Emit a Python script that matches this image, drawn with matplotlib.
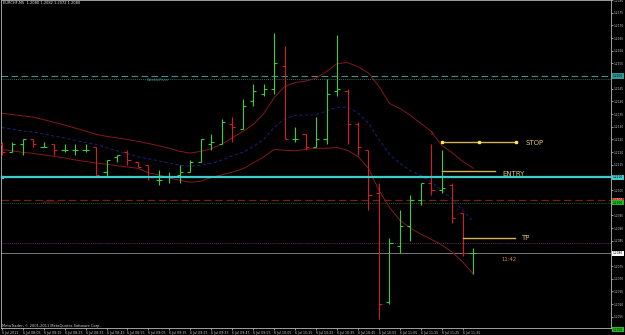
import numpy as np
import matplotlib
matplotlib.use("Agg")
import matplotlib.pyplot as plt

# ---------------- data ----------------
symbol = "EURCHF,M5"
opens  = [1.2123,1.2120,1.2123,1.2125,1.2122,1.2123,1.2121,1.2121,1.2121,1.2122,
          1.2112,1.2118,1.2120,1.2116,1.2115,1.2109,1.2110,1.2111,1.2112,1.2116,
          1.2123,1.2123,1.2131,1.2129,1.2140,1.2143,1.2145,1.2154,1.2125,1.2127,
          1.2122,1.2125,1.2144,1.2144,1.2131,1.2121,1.2104,1.2061,1.2083,1.2091,
          1.2101,1.2108,1.2105,1.2107,1.2096,1.2080]
highs  = [1.2124,1.2124,1.2125,1.2125,1.2124,1.2123,1.2123,1.2123,1.2123,1.2122,
          1.2117,1.2119,1.2121,1.2116,1.2115,1.2113,1.2112,1.2115,1.2117,1.2125,
          1.2127,1.2133,1.2134,1.2141,1.2147,1.2147,1.2167,1.2162,1.2130,1.2127,
          1.2134,1.2149,1.2166,1.2145,1.2132,1.2121,1.2108,1.2086,1.2097,1.2103,
          1.2108,1.2123,1.2121,1.2108,1.2096,1.2082]
lows   = [1.2119,1.2120,1.2119,1.2122,1.2122,1.2119,1.2120,1.2119,1.2120,1.2111,
          1.2110,1.2116,1.2115,1.2114,1.2109,1.2107,1.2108,1.2108,1.2112,1.2116,
          1.2121,1.2123,1.2124,1.2129,1.2138,1.2142,1.2143,1.2125,1.2124,1.2121,
          1.2122,1.2123,1.2142,1.2123,1.2119,1.2097,1.2054,1.2060,1.2080,1.2085,
          1.2099,1.2103,1.2104,1.2092,1.2079,1.2072]
closes = [1.2120,1.2123,1.2125,1.2123,1.2122,1.2121,1.2121,1.2121,1.2121,1.2111,
          1.2117,1.2119,1.2117,1.2114,1.2110,1.2109,1.2110,1.2112,1.2116,1.2125,
          1.2124,1.2132,1.2130,1.2138,1.2144,1.2145,1.2155,1.2125,1.2125,1.2122,
          1.2125,1.2143,1.2145,1.2131,1.2122,1.2103,1.2060,1.2084,1.2091,1.2101,
          1.2108,1.2105,1.2106,1.2094,1.2080,1.2080]

band_upper = [1.21353,1.21348,1.21343,1.21338,1.21328,1.21317,1.21307,1.21295,1.21283,1.21270,
              1.21262,1.21256,1.21250,1.21242,1.21234,1.21225,1.21215,1.21203,1.21196,1.21203,
              1.21213,1.21232,1.21256,1.21281,1.21309,1.21352,1.21415,1.21459,1.21474,1.21480,
              1.21492,1.21518,1.21549,1.21553,1.21537,1.21512,1.21459,1.21392,1.21372,1.21345,
              1.21313,1.21281,1.21226,1.21197,1.21163,1.21136]
band_middle = [1.21297,1.21291,1.21283,1.21279,1.21271,1.21263,1.21256,1.21246,1.21238,1.21230,
               1.21217,1.21205,1.21193,1.21181,1.21174,1.21165,1.21156,1.21148,1.21144,1.21148,
               1.21156,1.21169,1.21185,1.21199,1.21222,1.21250,1.21297,1.21331,1.21345,1.21346,
               1.21348,1.21362,1.21376,1.21378,1.21354,1.21313,1.21250,1.21191,1.21156,1.21126,
               1.21108,1.21081,1.21049,1.21014,1.20970,1.20927]
band_lower = [1.21210,1.21205,1.21199,1.21195,1.21189,1.21183,1.21177,1.21169,1.21163,1.21157,
              1.21152,1.21146,1.21141,1.21136,1.21118,1.21110,1.21098,1.21089,1.21081,1.21085,
              1.21100,1.21110,1.21121,1.21134,1.21157,1.21181,1.21211,1.21207,1.21205,1.21211,
              1.21215,1.21215,1.21218,1.21207,1.21183,1.21136,1.21049,1.20982,1.20931,1.20900,
              1.20876,1.20856,1.20833,1.20805,1.20766,1.20719]

time_labels = ["6 Jul 2011", "6 Jul 08:05", "6 Jul 08:15", "6 Jul 08:25", "6 Jul 08:35",
               "6 Jul 08:45", "6 Jul 08:55", "6 Jul 09:05", "6 Jul 09:15", "6 Jul 09:25",
               "6 Jul 09:35", "6 Jul 09:45", "6 Jul 09:55", "6 Jul 10:05", "6 Jul 10:15",
               "6 Jul 10:25", "6 Jul 10:35", "6 Jul 10:45", "6 Jul 10:55", "6 Jul 11:05",
               "6 Jul 11:15", "6 Jul 11:25", "6 Jul 11:35"]
price_ticks = [1.2055, 1.2060, 1.2065, 1.2070, 1.2075, 1.2080, 1.2085, 1.2090, 1.2095,
               1.2100, 1.2105, 1.2110, 1.2115, 1.2120, 1.2125, 1.2130, 1.2135, 1.2140,
               1.2145, 1.2150, 1.2155, 1.2160, 1.2165, 1.2170, 1.2175, 1.2180]

weekly_pivot = 1.2150
weekly_dotted = 1.2149
cyan_level = 1.2110
daily_pivot = 1.2101
green_dotted = 1.2100
purple_dotted = 1.2084
bid_level = 1.2080
offchart_level = 1.2050

stop_level = 1.2124
entry_level = 1.21125
tp_level = 1.2086
signal_bar = 41
signal_price = 1.2127
clock_text = "11:42"

# ---------------- figure ----------------
W, H = 625, 335
fig = plt.figure(figsize=(W/100, H/100), dpi=100, facecolor="black")
ax = fig.add_axes([1/W, 1 - 328/H, 610/W, 328/H])
ax.set_facecolor("black")
ax.set_xlim(-0.067, 58.14)
ax.set_ylim(1.20506, 1.21797)

x = np.arange(len(opens))
o = np.array(opens); h = np.array(highs); l = np.array(lows); c = np.array(closes)
green, red = "#38cf38", "#d21e1e"
cols = np.where(c >= o, green, red)

# horizontal levels
ax.axhline(weekly_pivot, color="#3e8f8f", lw=0.8, ls=(0, (6, 3)), zorder=1)
ax.axhline(weekly_dotted, color="#4f8a6a", lw=0.6, ls=(0, (1, 1.5)), zorder=1)
ax.axhline(daily_pivot, color="#7a1c1c", lw=0.9, ls=(0, (6, 3)), zorder=1)
ax.axhline(green_dotted, color="#2f8a2f", lw=0.6, ls=(0, (1, 1.5)), zorder=1)
ax.axhline(purple_dotted, color="#8a3a8a", lw=0.6, ls=(0, (1, 1.5)), zorder=1)
ax.axhline(bid_level, color="#8a8a8a", lw=0.6, zorder=1)

# bands
ax.plot(x, band_upper, color="#861919", lw=0.7, zorder=2)
ax.plot(x, band_lower, color="#861919", lw=0.7, zorder=2)
ax.plot(x, band_middle, color="#1c1c6c", lw=0.8, ls=(0, (3, 2)), zorder=2)

# bars
ax.vlines(x, l, h, colors=cols, lw=0.8, zorder=3)
ax.hlines(o, x - 0.3, x, colors=cols, lw=0.8, zorder=3)
ax.hlines(c, x, x + 0.3, colors=cols, lw=0.8, zorder=3)

# cyan level
ax.axhline(cyan_level, color="#3ccccc", lw=1.6, zorder=4)
ax.plot([0.0], [cyan_level], marker="s", ms=2, color="#3ccccc", zorder=5)

# trade lines
gold = "#d2b25a"
ax.plot([42, 49.07], [stop_level, stop_level], color=gold, lw=1.0, zorder=5)
ax.plot([42, 45.5, 49.07], [stop_level] * 3, ls="none", marker="s", ms=1.6,
        color="#ffe060", zorder=6)
ax.plot([42, 47.1], [entry_level, entry_level], color=gold, lw=1.0, zorder=5)
ax.plot([44, 49.0], [tp_level, tp_level], color=gold, lw=1.0, zorder=5)
txtcol = "#dcc472"
ax.text(50.0, stop_level - 0.00003, "STOP", color=txtcol, fontsize=5, va="center", ha="left")
ax.text(47.8, entry_level - 0.00013, "ENTRY", color=txtcol, fontsize=5, va="center", ha="left")
ax.text(49.55, tp_level, "TP", color=txtcol, fontsize=5, va="center", ha="left")
ax.text(47.7, 1.20776, clock_text, color="#e08a2a", fontsize=3.8, va="center", ha="left")
ax.text(signal_bar, signal_price, "\u21e9", color="#c83030", fontsize=3.5,
        va="center", ha="center", zorder=6)

ax.text(13.9, weekly_pivot - 0.00016, "WeeklyPivot", color="#3e9a9a", fontsize=2.6,
        va="center", ha="left")
ax.text(3.8, daily_pivot - 0.00008, "DailyPivot", color="#8a2525", fontsize=2.6,
        va="center", ha="left")

# axes styling
for s in ax.spines.values():
    s.set_color("#b8b8b8")
    s.set_linewidth(0.6)
ax.yaxis.tick_right()
ax.set_yticks(price_ticks)
ax.set_yticklabels([f"{p:.4f}" for p in price_ticks])
ax.tick_params(axis="y", colors="#c8c8c8", labelsize=2.1, length=1.2, width=0.5, pad=0.5)
ax.set_xticks(x[::2])
ax.set_xticklabels(time_labels, ha="left")
ax.tick_params(axis="x", colors="#c8c8c8", labelsize=2.3, length=1.5, width=0.5, pad=0.6)

# right-axis level boxes
ytr = ax.get_yaxis_transform()
for lev, bg, fg in [(weekly_pivot, "#2f9a9a", "#000000"),
                    (cyan_level, "#3ccccc", "#000000"),
                    (daily_pivot, "#c02828", "#ffffff"),
                    (green_dotted, "#22bb22", "#000000"),
                    (bid_level, "#ffffff", "#000000"),
                    (offchart_level, "#22bb22", "#000000")]:
    ax.text(1.003, lev, f"{lev:.4f}", transform=ytr, fontsize=2.1, color=fg,
            va="center", ha="left", clip_on=False,
            bbox=dict(boxstyle="square,pad=0.2", fc=bg, ec="none"))

title = f"{symbol}  {opens[-1]:.4f} {highs[-1]:.4f} {lows[-1]:.4f} {closes[-1]:.4f}"
fig.text(3/W, 1 - 3.5/H, title, color="#e8e8e8", fontsize=2.6, va="center", ha="left")
fig.text(2/W, 1 - 325.5/H, "MetaTrader, \u00a9 2001-2011 MetaQuotes Software Corp.",
         color="#d0d0d0", fontsize=2.6, va="center", ha="left")

fig.savefig("out.png", dpi=100, facecolor="black")
